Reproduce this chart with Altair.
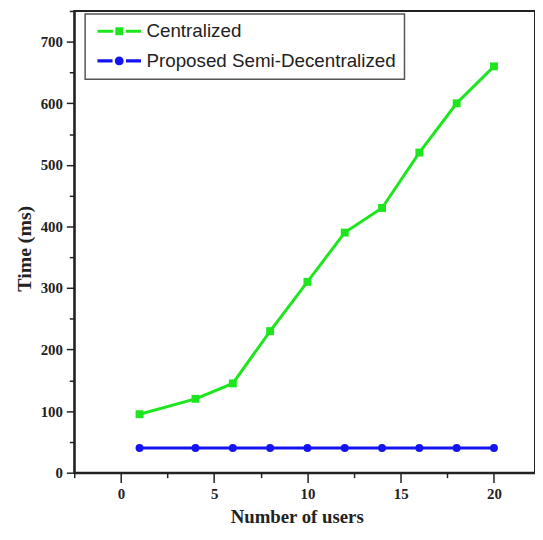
import altair as alt
import pandas as pd

# ---- data ----
users = [1, 4, 6, 8, 10, 12, 14, 16, 18, 20]
centralized = [95, 120, 145, 230, 310, 390, 430, 520, 600, 660]
semi_decentralized = [40, 40, 40, 40, 40, 40, 40, 40, 40, 40]
series_names = ["Centralized", "Proposed Semi-Decentralized"]
series_colors = ["#1ee61e", "#1414f0"]
x_tick_values = [-2.5, 0, 2.5, 5, 7.5, 10, 12.5, 15, 17.5, 20]
y_tick_values = [0, 50, 100, 150, 200, 250, 300, 350, 400, 450, 500, 550, 600, 650, 700, 750]

df = pd.DataFrame({
    "users": users + users,
    "time": centralized + semi_decentralized,
    "series": [series_names[0]] * len(users) + [series_names[1]] * len(users),
})

# legend symbols: dash - marker - dash (units of 8px)
sym_square = ("M-2.75,-0.2H-0.8V0.2H-2.75Z "
              "M-0.5,-0.5H0.5V0.5H-0.5Z "
              "M0.8,-0.2H2.75V0.2H0.8Z")
sym_circle = ("M-2.75,-0.2H-0.85V0.2H-2.75Z "
              "M0.56,0A0.56,0.56 0 1,1 -0.56,0A0.56,0.56 0 1,1 0.56,0Z "
              "M0.85,-0.2H2.75V0.2H0.85Z")

x_scale = alt.Scale(domain=[-2.5, 22.2], nice=False, zero=False)
y_scale = alt.Scale(domain=[0, 750], nice=False)

x_axis = alt.Axis(
    values=x_tick_values,
    labelExpr="datum.value % 5 == 0 ? datum.label : ''",
    tickSize={"condition": {"test": "datum.value % 5 == 0", "value": 10}, "value": 5},
    title="Number of users",
    titleX=225,
    titlePadding=6,
    labelPadding=4,
    titleFontSize=19,
    grid=False,
)
y_axis = alt.Axis(
    values=y_tick_values,
    labelExpr="datum.value % 100 == 0 ? datum.label : ''",
    tickSize={"condition": {"test": "datum.value % 100 == 0", "value": 8}, "value": 5},
    title="Time (ms)",
    titlePadding=6,
    labelPadding=4,
    titleFontSize=20,
    titleY=240,
    grid=False,
)

legend_def = alt.Legend(
    title=None, orient="none", legendX=11, legendY=3, padding=8,
    strokeColor="#555555", fillColor="white", cornerRadius=0,
    symbolSize=256, symbolOffset=17, labelOffset=18,
    labelFont="Liberation Sans", labelFontSize=19, labelColor="#222222",
    rowPadding=10, symbolOpacity=1, symbolStrokeWidth=0, labelLimit=400,
)

base = alt.Chart(df)

lines = base.mark_line(strokeWidth=3).encode(
    x=alt.X("users:Q", scale=x_scale, axis=x_axis),
    y=alt.Y("time:Q", scale=y_scale, axis=y_axis),
    color=alt.Color("series:N", scale=alt.Scale(domain=series_names, range=series_colors), legend=None),
    detail="series:N",
)

points = base.mark_point(filled=True, size=64, opacity=1).encode(
    x=alt.X("users:Q", scale=x_scale, axis=x_axis),
    y=alt.Y("time:Q", scale=y_scale, axis=y_axis),
    color=alt.Color("series:N", scale=alt.Scale(domain=series_names, range=series_colors), legend=None),
    shape=alt.Shape("series:N", scale=alt.Scale(domain=series_names, range=["square", "circle"]), legend=None),
)

legend_layer = base.mark_point(filled=True, opacity=0).encode(
    x=alt.X("users:Q", scale=x_scale, axis=x_axis),
    y=alt.Y("time:Q", scale=y_scale, axis=y_axis),
    color=alt.Color("series:N", scale=alt.Scale(domain=series_names, range=series_colors), legend=legend_def),
    shape=alt.Shape("series:N", scale=alt.Scale(domain=series_names, range=[sym_square, sym_circle]), legend=legend_def),
)

chart = alt.layer(lines, points, legend_layer).resolve_scale(
    color="independent", shape="independent"
).properties(
    width=466,
    height=467,
    background="white",
    autosize=alt.AutoSizeParams(type="none"),
    padding={"left": 67, "top": 0, "right": 0, "bottom": 57},
).configure_view(
    stroke="#222222", strokeWidth=2,
).configure_axis(
    domainColor="#222222", domainWidth=2, tickColor="#222222", tickWidth=1.5,
    labelFont="Liberation Serif", labelFontWeight="bold", labelFontSize=15, labelColor="#222222",
    titleFont="Liberation Serif", titleFontWeight="bold", titleFontSize=18, titleColor="#222222",
).configure_legend(
    strokeWidth=1.5,
)

chart.save("out.html", embed_options={"renderer": "svg", "actions": False})
